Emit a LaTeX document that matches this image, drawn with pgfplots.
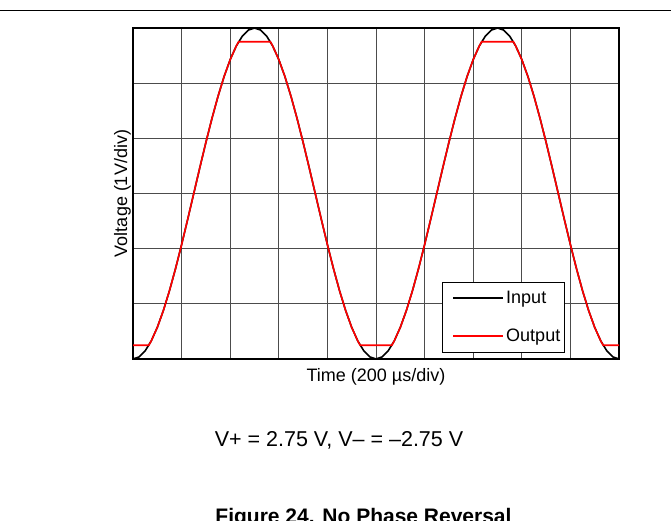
\documentclass[border=0pt]{standalone}
\usepackage{fontspec}
\setmainfont{Liberation Sans}
\usepackage{pgfplots}
\pgfplotsset{compat=1.18}
\begin{document}
\begin{tikzpicture}[x=1pt,y=1pt]
\useasboundingbox (0,0) rectangle (671,521);
\fill[white] (0,0) rectangle (671,521);
\draw[line width=0.8pt] (0,511) -- (671,511);
\begin{axis}[
  at={(133pt,162pt)}, anchor=south west,
  scale only axis, width=486pt, height=331pt,
  xmin=0, xmax=10, ymin=0, ymax=6,
  xtick={0,1,...,10}, ytick={0,1,...,6},
  xticklabels={}, yticklabels={},
  major tick length=0pt,
  grid=major,
  major grid style={black!70, line width=0.8pt},
  axis line style={line width=2pt},
  xlabel={Time (200 µs/div)},
  ylabel={Voltage (1V/div)},
  xlabel style={at={(axis description cs:0.5,-0.0665)}, anchor=base, font=\fontsize{18}{20}\selectfont},
  ylabel style={at={(axis description cs:-0.0123,0.5)}, anchor=base, font=\fontsize{18}{20}\selectfont},
  legend cell align=left,
  legend style={at={(rel axis cs:0.8889,0.0181)}, anchor=south east, draw=black, line width=1.5pt,
    font=\fontsize{18}{20}\selectfont, inner xsep=2pt, inner ysep=7pt, row sep=20pt},
  legend image code/.code={\path (0pt,0pt); \draw[#1] (8pt,0pt) -- (58pt,0pt);},
]
\addplot[black, line width=1.6pt] coordinates {
(0,0)(0.125,0.0369)(0.25,0.1468)(0.375,0.3270)(0.5,0.5729)(0.625,0.8787)(0.75,1.2366)(0.875,1.6380)(1,2.0729)(1.125,2.5307)(1.25,3)(1.375,3.4693)(1.5,3.9271)(1.625,4.3620)(1.75,4.7634)(1.875,5.1213)(2,5.4271)(2.125,5.6730)(2.25,5.8532)(2.375,5.9631)(2.5,6)(2.625,5.9631)(2.75,5.8532)(2.875,5.6730)(3,5.4271)(3.125,5.1213)(3.25,4.7634)(3.375,4.3620)(3.5,3.9271)(3.625,3.4693)(3.75,3)(3.875,2.5307)(4,2.0729)(4.125,1.6380)(4.25,1.2366)(4.375,0.8787)(4.5,0.5729)(4.625,0.3270)(4.75,0.1468)(4.875,0.0369)(5,0)
(5.125,0.0369)(5.25,0.1468)(5.375,0.3270)(5.5,0.5729)(5.625,0.8787)(5.75,1.2366)(5.875,1.6380)(6,2.0729)(6.125,2.5307)(6.25,3)(6.375,3.4693)(6.5,3.9271)(6.625,4.3620)(6.75,4.7634)(6.875,5.1213)(7,5.4271)(7.125,5.6730)(7.25,5.8532)(7.375,5.9631)(7.5,6)(7.625,5.9631)(7.75,5.8532)(7.875,5.6730)(8,5.4271)(8.125,5.1213)(8.25,4.7634)(8.375,4.3620)(8.5,3.9271)(8.625,3.4693)(8.75,3)(8.875,2.5307)(9,2.0729)(9.125,1.6380)(9.25,1.2366)(9.375,0.8787)(9.5,0.5729)(9.625,0.3270)(9.75,0.1468)(9.875,0.0369)(10,0)
};
\addlegendentry{Input}
\addplot[red, line width=1.6pt] coordinates {
(0,0.25)(0.327,0.25)(0.375,0.3270)(0.5,0.5729)(0.625,0.8787)(0.75,1.2366)(0.875,1.6380)(1,2.0729)(1.125,2.5307)(1.25,3)(1.375,3.4693)(1.5,3.9271)(1.625,4.3620)(1.75,4.7634)(1.875,5.1213)(2,5.4271)(2.125,5.6730)(2.173,5.75)(2.827,5.75)(2.875,5.6730)(3,5.4271)(3.125,5.1213)(3.25,4.7634)(3.375,4.3620)(3.5,3.9271)(3.625,3.4693)(3.75,3)(3.875,2.5307)(4,2.0729)(4.125,1.6380)(4.25,1.2366)(4.375,0.8787)(4.5,0.5729)(4.625,0.3270)(4.673,0.25)
(5.327,0.25)(5.375,0.3270)(5.5,0.5729)(5.625,0.8787)(5.75,1.2366)(5.875,1.6380)(6,2.0729)(6.125,2.5307)(6.25,3)(6.375,3.4693)(6.5,3.9271)(6.625,4.3620)(6.75,4.7634)(6.875,5.1213)(7,5.4271)(7.125,5.6730)(7.173,5.75)(7.827,5.75)(7.875,5.6730)(8,5.4271)(8.125,5.1213)(8.25,4.7634)(8.375,4.3620)(8.5,3.9271)(8.625,3.4693)(8.75,3)(8.875,2.5307)(9,2.0729)(9.125,1.6380)(9.25,1.2366)(9.375,0.8787)(9.5,0.5729)(9.625,0.3270)(9.673,0.25)(10,0.25)
};
\addlegendentry{Output}
\end{axis}
\node[anchor=base, font=\fontsize{21.5}{24}\selectfont, inner sep=0pt] at (339,74) {V+ = 2.75 V, V– = –2.75 V};
\node[anchor=base, font=\bfseries\fontsize{21}{24}\selectfont, inner sep=0pt] at (363.5,-3) {Figure 24. No Phase Reversal};
\end{tikzpicture}
\end{document}
